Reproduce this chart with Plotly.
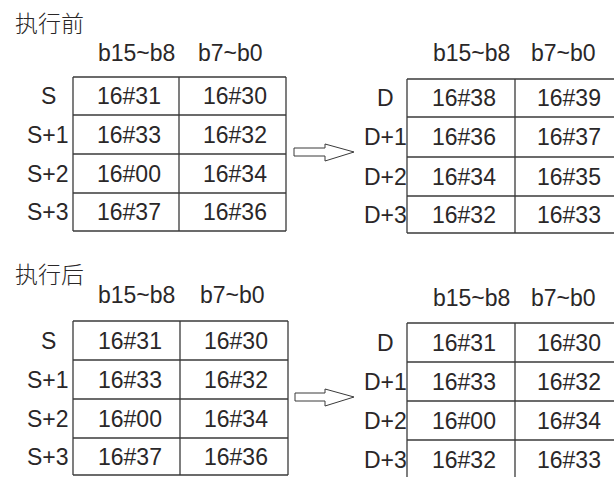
import plotly.graph_objects as go

# ---------------- data ----------------
panel_titles = ["执行前", "执行后"]
col_headers = ["b15~b8", "b7~b0"]
src_labels = ["S", "S+1", "S+2", "S+3"]
dst_labels = ["D", "D+1", "D+2", "D+3"]

before_src_hi = ["16#31", "16#33", "16#00", "16#37"]
before_src_lo = ["16#30", "16#32", "16#34", "16#36"]
before_dst_hi = ["16#38", "16#36", "16#34", "16#32"]
before_dst_lo = ["16#39", "16#37", "16#35", "16#33"]

after_src_hi = ["16#31", "16#33", "16#00", "16#37"]
after_src_lo = ["16#30", "16#32", "16#34", "16#36"]
after_dst_hi = ["16#31", "16#33", "16#00", "16#32"]
after_dst_lo = ["16#30", "16#32", "16#34", "16#33"]

# ---------------- layout geometry / style ----------------
W, H = 614, 477
FONT = "Liberation Sans, Arial, Noto Sans CJK SC, sans-serif"
CJK = "Noto Sans CJK SC, sans-serif"
FS = 23
TXT = "#2a2728"
LINE = "#3a3a3a"

tables = [
    dict(xe=[73, 179, 286], ye=[77, 115, 154, 193, 231], labels=src_labels,
         hi=before_src_hi, lo=before_src_lo, lx=48, hy=53),
    dict(xe=[407, 515, 625], ye=[79, 117, 157, 196, 233], labels=dst_labels,
         hi=before_dst_hi, lo=before_dst_lo, lx=385, hy=53),
    dict(xe=[73, 180, 288], ye=[321, 360, 399, 438, 475], labels=src_labels,
         hi=after_src_hi, lo=after_src_lo, lx=48, hy=295),
    dict(xe=[407, 515, 625], ye=[323, 362, 401, 440, 480], labels=dst_labels,
         hi=after_dst_hi, lo=after_dst_lo, lx=385, hy=298),
]

shapes = []
annotations = []


def add_text(x, y, s, anchor="center", family=FONT, weight="normal"):
    annotations.append(dict(x=x, y=y, xref="x", yref="y", text=s, showarrow=False,
                            xanchor=anchor, yanchor="middle",
                            font=dict(family=family, size=FS, color=TXT, weight=weight)))


for t in tables:
    xe, ye = t["xe"], t["ye"]
    for y in ye:
        shapes.append(dict(type="line", xref="x", yref="y", x0=xe[0], x1=xe[-1], y0=y, y1=y,
                           line=dict(color=LINE, width=1.3)))
    for x in xe:
        shapes.append(dict(type="line", xref="x", yref="y", x0=x, x1=x, y0=ye[0], y1=ye[-1],
                           line=dict(color=LINE, width=1.3)))
    c1 = (xe[0] + xe[1]) / 2 + 3
    c2 = (xe[1] + xe[2]) / 2 + 2 if xe[2] < 600 else xe[1] + 54
    for i in range(4):
        yc = (ye[i] + ye[i + 1]) / 2
        add_text(t["lx"], yc, t["labels"][i])
        add_text(c1, yc, t["hi"][i])
        add_text(c2, yc, t["lo"][i])
    hx1 = (xe[0] + xe[1]) / 2 + 10 if xe[0] < 100 else 471
    hx2 = (xe[1] + xe[2]) / 2 - 2 if xe[0] < 100 else 563
    add_text(hx1, t["hy"], col_headers[0])
    add_text(hx2, t["hy"], col_headers[1])

add_text(13, 22, panel_titles[0], anchor="left", family=CJK, weight=300)
add_text(13, 273, panel_titles[1], anchor="left", family=CJK, weight=300)

# hollow arrows between tables
for (x0, yc) in [(294, 152), (295, 397)]:
    path = (f"M {x0},{yc-4} L 325,{yc-4} L 325,{yc-8} L 354,{yc} L 325,{yc+9} "
            f"L 325,{yc+4} L {x0},{yc+4} Z")
    shapes.append(dict(type="path", xref="x", yref="y", path=path,
                       fillcolor="white", line=dict(color=LINE, width=1)))

fig = go.Figure()
fig.add_trace(go.Scatter(x=[0, W], y=[0, H], mode="markers",
                         marker=dict(opacity=0), hoverinfo="skip", showlegend=False))
fig.update_layout(
    width=W, height=H, autosize=False,
    margin=dict(l=0, r=0, t=0, b=0),
    paper_bgcolor="white", plot_bgcolor="white",
    xaxis=dict(range=[0, W], visible=False, fixedrange=True),
    yaxis=dict(range=[H, 0], visible=False, fixedrange=True),
    shapes=shapes, annotations=annotations, showlegend=False,
)
fig.write_html("out.html", config={"displayModeBar": False},
               post_script="document.body.style.margin='0';document.body.style.overflow='hidden';")
